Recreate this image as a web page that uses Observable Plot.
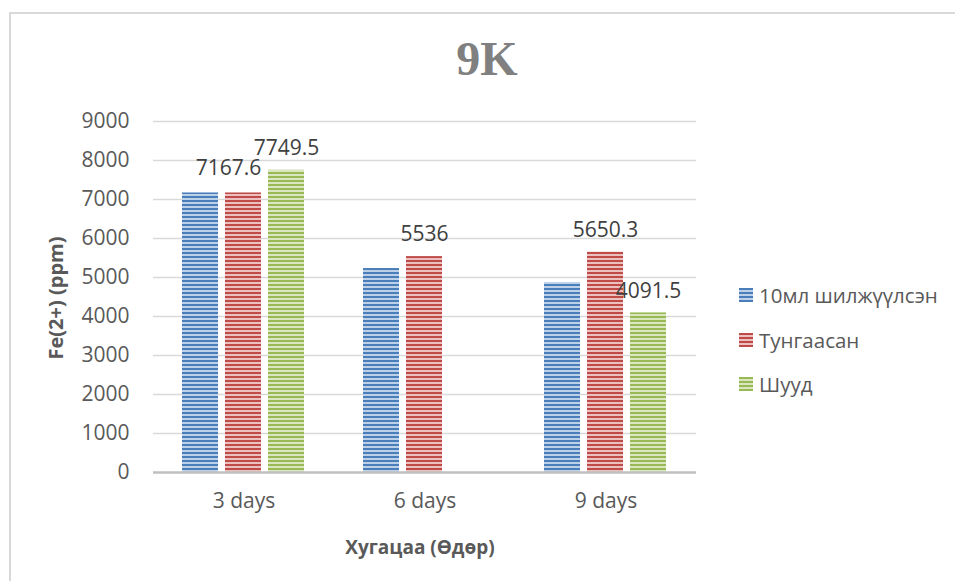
<!DOCTYPE html>
<html><head><meta charset="utf-8">
<script src="https://cdn.jsdelivr.net/npm/d3@7"></script>
<script src="https://cdn.jsdelivr.net/npm/@observablehq/plot@0.6"></script>
<style>
body{margin:0;background:#fff;}
#wrap{position:relative;width:955px;height:581px;overflow:hidden;font-family:"Open Sans",sans-serif;}
#frame{position:absolute;left:9px;top:12px;width:1000px;height:700px;border-left:2px solid #d9d9d9;border-top:2px solid #d9d9d9;}
#title{position:absolute;left:0;width:974px;top:34px;line-height:50px;text-align:center;font-family:"Liberation Serif",serif;font-weight:bold;font-size:48px;color:#808080;}
.axlab{position:absolute;font-weight:bold;font-size:19px;color:#595959;white-space:nowrap;transform:translate(-50%,-50%);}
#ylab{left:55px;top:298px;font-size:20px;transform:translate(-50%,-50%) rotate(-90deg);}
#xlab{left:420px;top:547px;}
.leg{position:absolute;left:739px;font-size:20.5px;color:#595959;white-space:nowrap;line-height:26px;}
.leg svg{position:absolute;left:0;top:6px;}
.leg span{position:absolute;left:20px;top:0;}
#plot{position:absolute;left:0;top:0;}
</style>
</head><body>
<div id="wrap">
<div id="frame"></div>
<div id="plot"></div>
<div id="title">9K</div>
<div id="ylab" class="axlab">Fe(2+) (ppm)</div>
<div id="xlab" class="axlab">Хугацаа (Өдөр)</div>
<div id="legend"></div>
</div>
<script>
const days = ["3 days", "6 days", "9 days"];
const series = ["10мл шилжүүлсэн", "Тунгаасан", "Шууд"];
const blueValues = [7167.6, 5230, 4870];
const redValues = [7167.6, 5536, 5650.3];
const greenValues = [7749.5, null, 4091.5];
const yTicks = [0, 1000, 2000, 3000, 4000, 5000, 6000, 7000, 8000, 9000];
const showLabels = [false, true, true];

const darkColors = ["#4a7ebb", "#be4b48", "#98b954"];
const lightColors = ["#bcd0e8", "#ebc0bf", "#d9e6c0"];

const valuesBySeries = [blueValues, redValues, greenValues];
const table = [];
series.forEach((s, si) => days.forEach((d, di) => {
  const v = valuesBySeries[si][di];
  if (v != null) table.push({day: d, series: s, value: v, si, label: showLabels[si]});
}));

const labelled = table.filter(r => r.label);
const shifted = r => r.day === days[0] && r.series === series[1];

const chart = Plot.plot({
  width: 955, height: 581,
  marginLeft: 152, marginRight: 258, marginTop: 121, marginBottom: 109,
  style: {fontFamily: "Open Sans", fontSize: "21px", color: "#595959", background: "transparent", overflow: "visible"},
  fx: {domain: days, padding: 0, axis: "bottom", tickSize: 0, tickPadding: 21, label: null},
  x: {domain: series, paddingInner: 0.159, paddingOuter: 0.645, axis: null},
  y: {domain: [0, 9000], ticks: yTicks, tickSize: 0, tickPadding: 24, label: null, tickFormat: d => String(d)},
  marks: [
    Plot.ruleY(yTicks.filter(t => t > 0), {stroke: "#d9d9d9", strokeWidth: 1.5, strokeOpacity: 1}),
    ...series.map((s, i) => Plot.barY(table.filter(r => r.series === s), {fx: "day", x: "series", y: "value", fill: `url(#stripe${i})`})),
    Plot.ruleY([0], {stroke: "#bfbfbf", strokeWidth: 2.5}),
    Plot.text(labelled.filter(r => !shifted(r)), {fx: "day", x: "series", y: "value", text: d => String(d.value), dy: -22, fill: "#404040", fontSize: 21}),
    Plot.text(labelled.filter(shifted), {fx: "day", x: "series", y: "value", text: d => String(d.value), dy: -25, dx: -15, fill: "#404040", fontSize: 21})
  ]
});

const defs = d3.select(chart).insert("svg:defs", ":first-child");
series.forEach((s, i) => {
  const p = defs.append("pattern").attr("id", `stripe${i}`).attr("patternUnits", "userSpaceOnUse").attr("width", 10).attr("height", 4);
  p.append("rect").attr("width", 10).attr("height", 4).attr("fill", lightColors[i]);
  p.append("rect").attr("width", 10).attr("height", 2).attr("fill", darkColors[i]);
});

document.getElementById("plot").appendChild(chart);

const legendTops = [282, 327, 371];
const leg = document.getElementById("legend");
series.forEach((s, i) => {
  const div = document.createElement("div");
  div.className = "leg";
  div.style.top = legendTops[i] + "px";
  div.innerHTML = `<svg width="14" height="14"><defs><pattern id="lp${i}" patternUnits="userSpaceOnUse" width="14" height="4"><rect width="14" height="4" fill="${lightColors[i]}"/><rect width="14" height="2" fill="${darkColors[i]}"/></pattern></defs><rect width="14" height="14" fill="url(#lp${i})"/></svg><span>${s}</span>`;
  leg.appendChild(div);
});
</script>
</body></html>
